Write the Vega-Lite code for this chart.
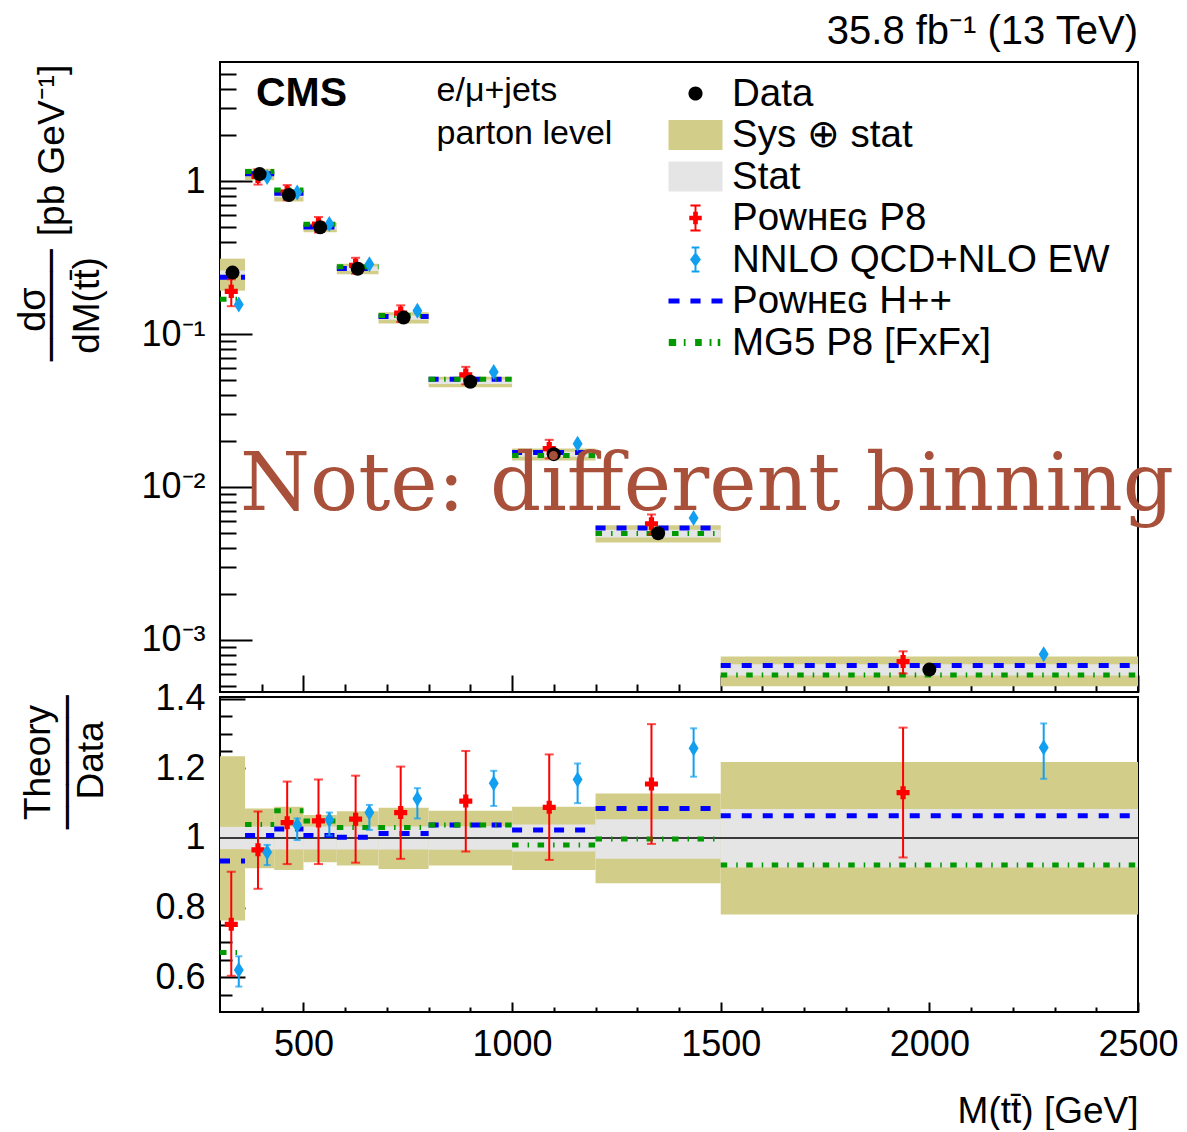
{
  "$schema": "https://vega.github.io/schema/vega-lite/v6.json",
  "background": "white",
  "padding": {"left": 13, "top": 11, "right": 0, "bottom": 0},
  "spacing": -15,
  "config": {
    "font": "Liberation Sans",
    "view": {"stroke": "black", "strokeWidth": 2},
    "axis": {
      "grid": false, "domain": false, "tickColor": "black", "tickWidth": 2,
      "labelColor": "black", "titleColor": "black", "labelFontSize": 36, "titleFontSize": 37,
      "titleFontWeight": "normal", "labelFont": "Liberation Sans", "titleFont": "Liberation Sans",
      "minExtent": 0, "labelOverlap": false, "labelFlush": false, "labelBound": false
    }
  },
  "datasets": {
    "topBins": [
      {"lo": 300, "hi": 360, "center": 330, "data": 0.252, "sysLo": 0.192, "sysHi": 0.311, "statLo": 0.244, "statHi": 0.260, "hpp": 0.235, "mg5": 0.169},
      {"lo": 360, "hi": 430, "center": 395, "data": 1.11, "sysLo": 1.013, "sysHi": 1.204, "statLo": 1.073, "statHi": 1.147, "hpp": 1.118, "mg5": 1.153},
      {"lo": 430, "hi": 500, "center": 465, "data": 0.810, "sysLo": 0.735, "sysHi": 0.883, "statLo": 0.783, "statHi": 0.837, "hpp": 0.831, "mg5": 0.873},
      {"lo": 500, "hi": 580, "center": 540, "data": 0.498, "sysLo": 0.463, "sysHi": 0.531, "statLo": 0.482, "statHi": 0.514, "hpp": 0.501, "mg5": 0.522},
      {"lo": 580, "hi": 680, "center": 630, "data": 0.267, "sysLo": 0.246, "sysHi": 0.288, "statLo": 0.258, "statHi": 0.276, "hpp": 0.268, "mg5": 0.275},
      {"lo": 680, "hi": 800, "center": 740, "data": 0.128, "sysLo": 0.117, "sysHi": 0.139, "statLo": 0.124, "statHi": 0.132, "hpp": 0.130, "mg5": 0.132},
      {"lo": 800, "hi": 1000, "center": 900, "data": 0.0488, "sysLo": 0.0449, "sysHi": 0.0526, "statLo": 0.0472, "statHi": 0.0504, "hpp": 0.0506, "mg5": 0.0506},
      {"lo": 1000, "hi": 1200, "center": 1100, "data": 0.0164, "sysLo": 0.01489, "sysHi": 0.01788, "statLo": 0.01576, "statHi": 0.0170, "hpp": 0.01678, "mg5": 0.01607},
      {"lo": 1200, "hi": 1500, "center": 1350, "data": 0.00498, "sysLo": 0.00433, "sysHi": 0.00562, "statLo": 0.00468, "statHi": 0.00525, "hpp": 0.00540, "mg5": 0.00497},
      {"lo": 1500, "hi": 2500, "center": 2000, "data": 0.00064, "sysLo": 0.000499, "sysHi": 0.00078, "statLo": 0.000586, "statHi": 0.000693, "hpp": 0.000681, "mg5": 0.00059}
    ],
    "ratioBins": [
      {"lo": 300, "hi": 360, "sysLo": 0.763, "sysHi": 1.235, "statLo": 0.968, "statHi": 1.032, "hpp": 0.934, "mg5": 0.671},
      {"lo": 360, "hi": 430, "sysLo": 0.913, "sysHi": 1.085, "statLo": 0.967, "statHi": 1.033, "hpp": 1.007, "mg5": 1.039},
      {"lo": 430, "hi": 500, "sysLo": 0.908, "sysHi": 1.090, "statLo": 0.967, "statHi": 1.033, "hpp": 1.026, "mg5": 1.078},
      {"lo": 500, "hi": 580, "sysLo": 0.930, "sysHi": 1.066, "statLo": 0.967, "statHi": 1.033, "hpp": 1.007, "mg5": 1.049},
      {"lo": 580, "hi": 680, "sysLo": 0.921, "sysHi": 1.077, "statLo": 0.967, "statHi": 1.033, "hpp": 1.002, "mg5": 1.030},
      {"lo": 680, "hi": 800, "sysLo": 0.911, "sysHi": 1.087, "statLo": 0.967, "statHi": 1.033, "hpp": 1.013, "mg5": 1.030},
      {"lo": 800, "hi": 1000, "sysLo": 0.921, "sysHi": 1.078, "statLo": 0.966, "statHi": 1.034, "hpp": 1.037, "mg5": 1.037},
      {"lo": 1000, "hi": 1200, "sysLo": 0.908, "sysHi": 1.090, "statLo": 0.961, "statHi": 1.039, "hpp": 1.023, "mg5": 0.980},
      {"lo": 1200, "hi": 1500, "sysLo": 0.870, "sysHi": 1.128, "statLo": 0.940, "statHi": 1.054, "hpp": 1.085, "mg5": 0.997},
      {"lo": 1500, "hi": 2500, "sysLo": 0.780, "sysHi": 1.218, "statLo": 0.915, "statHi": 1.083, "hpp": 1.064, "mg5": 0.922}
    ],
    "p8": [
      {"x": 327, "top": 0.190, "topLo": 0.152, "topHi": 0.228, "r": 0.752, "rLo": 0.604, "rHi": 0.903},
      {"x": 391, "top": 1.072, "topLo": 0.948, "topHi": 1.194, "r": 0.966, "rLo": 0.854, "rHi": 1.076},
      {"x": 461, "top": 0.846, "topLo": 0.749, "topHi": 0.941, "r": 1.044, "rLo": 0.925, "rHi": 1.162},
      {"x": 536, "top": 0.522, "topLo": 0.461, "topHi": 0.582, "r": 1.049, "rLo": 0.925, "rHi": 1.168},
      {"x": 625, "top": 0.281, "topLo": 0.248, "topHi": 0.315, "r": 1.054, "rLo": 0.929, "rHi": 1.179},
      {"x": 733, "top": 0.137, "topLo": 0.120, "topHi": 0.154, "r": 1.073, "rLo": 0.940, "rHi": 1.205},
      {"x": 889, "top": 0.0540, "topLo": 0.0469, "topHi": 0.0610, "r": 1.106, "rLo": 0.961, "rHi": 1.250},
      {"x": 1089, "top": 0.01784, "topLo": 0.01537, "topHi": 0.02034, "r": 1.088, "rLo": 0.937, "rHi": 1.240},
      {"x": 1334, "top": 0.00575, "topLo": 0.00490, "topHi": 0.00661, "r": 1.155, "rLo": 0.983, "rHi": 1.327},
      {"x": 1937, "top": 0.000723, "topLo": 0.000604, "topHi": 0.000843, "r": 1.130, "rLo": 0.944, "rHi": 1.317}
    ],
    "nnlo": [
      {"x": 345, "top": 0.156, "topLo": 0.144, "topHi": 0.166, "r": 0.621, "rLo": 0.573, "rHi": 0.660},
      {"x": 413, "top": 1.064, "topLo": 1.023, "topHi": 1.088, "r": 0.959, "rLo": 0.922, "rHi": 0.980},
      {"x": 485, "top": 0.840, "topLo": 0.805, "topHi": 0.855, "r": 1.037, "rLo": 0.994, "rHi": 1.056},
      {"x": 562, "top": 0.524, "topLo": 0.501, "topHi": 0.534, "r": 1.052, "rLo": 1.007, "rHi": 1.073},
      {"x": 658, "top": 0.286, "topLo": 0.273, "topHi": 0.292, "r": 1.073, "rLo": 1.023, "rHi": 1.095},
      {"x": 773, "top": 0.142, "topLo": 0.135, "topHi": 0.146, "r": 1.113, "rLo": 1.056, "rHi": 1.143},
      {"x": 956, "top": 0.0565, "topLo": 0.0533, "topHi": 0.0582, "r": 1.157, "rLo": 1.092, "rHi": 1.193},
      {"x": 1157, "top": 0.01916, "topLo": 0.01804, "topHi": 0.01991, "r": 1.168, "rLo": 1.100, "rHi": 1.214},
      {"x": 1435, "top": 0.00626, "topLo": 0.00586, "topHi": 0.00655, "r": 1.258, "rLo": 1.176, "rHi": 1.315},
      {"x": 2274, "top": 0.000806, "topLo": 0.000749, "topHi": 0.000851, "r": 1.260, "rLo": 1.170, "rHi": 1.329}
    ],
    "legendEntries": [
      {"entry": "Data"},
      {"entry": "Sys ⊕ stat"},
      {"entry": "Stat"},
      {"entry": "Pᴏᴡʜᴇɢ P8"},
      {"entry": "NNLO QCD+NLO EW"},
      {"entry": "Pᴏᴡʜᴇɢ H++"},
      {"entry": "MG5 P8 [FxFx]"}
    ],
    "single": [{}]
  },
  "vconcat": [
    {
      "width": 918,
      "height": 630,
      "title": {"text": "35.8 fb⁻¹ (13 TeV)", "anchor": "end", "frame": "group", "fontSize": 40, "fontWeight": "normal", "font": "Liberation Sans", "color": "black", "offset": 10},
      "resolve": {"axis": {"x": "independent", "y": "independent"}},
      "layer": [
        {
          "data": {"name": "topBins"},
          "mark": {"type": "rect", "color": "#d3cd8a"},
          "encoding": {
            "x": {"field": "lo", "type": "quantitative", "scale": {"domain": [300, 2500], "nice": false, "zero": false},
                  "axis": {"orient": "bottom", "values": [500, 1000, 1500, 2000, 2500], "tickSize": -17, "labels": false, "title": null}},
            "x2": {"field": "hi"},
            "y": {"field": "sysLo", "type": "quantitative", "scale": {"type": "log", "domain": [0.000457, 6.0], "nice": false},
                  "axis": {"orient": "left", "values": [0.001, 0.01, 0.1, 1], "ticks": false, "tickSize": 0, "labelPadding": 15,
                           "labelExpr": "datum.value >= 0.5 ? '1' : datum.value >= 0.05 ? '10⁻¹' : datum.value >= 0.005 ? '10⁻²' : '10⁻³'",
                           "title": "dσ", "titleFontSize": 38, "titleAngle": 270, "titleX": -187, "titleY": 247, "titleAlign": "center", "titleBaseline": "middle"}},
            "y2": {"field": "sysHi"}
          }
        },
        {
          "data": {"name": "topBins"},
          "mark": {"type": "rect", "color": "#e5e5e5"},
          "encoding": {
            "x": {"field": "lo", "type": "quantitative", "scale": {"domain": [300, 2500], "nice": false, "zero": false},
                  "axis": {"orient": "bottom", "values": [400, 600, 700, 800, 900, 1100, 1200, 1300, 1400, 1600, 1700, 1800, 1900, 2100, 2200, 2300, 2400], "tickSize": -8, "labels": false,
                           "title": "─────", "titleFont": "DejaVu Sans Mono", "titleFontSize": 37, "titleAngle": 270, "titleX": -168, "titleY": -387, "titleAlign": "center", "titleBaseline": "middle"}},
            "x2": {"field": "hi"},
            "y": {"field": "statLo", "type": "quantitative", "scale": {"type": "log", "domain": [0.000457, 6.0], "nice": false},
                  "axis": {"orient": "left", "values": [0.001, 0.01, 0.1, 1], "tickSize": -32, "labels": false,
                           "title": "dM(tt̄)", "titleAngle": 270, "titleX": -133, "titleY": 243, "titleAlign": "center", "titleBaseline": "middle"}},
            "y2": {"field": "statHi"}
          }
        },
        {
          "data": {"name": "topBins"},
          "mark": {"type": "rule", "color": "#0000ff", "strokeWidth": 5, "strokeDash": [10, 11], "strokeCap": "butt"},
          "encoding": {
            "x": {"field": "lo", "type": "quantitative", "scale": {"domain": [300, 2500], "nice": false, "zero": false}, "axis": null},
            "x2": {"field": "hi"},
            "y": {"field": "hpp", "type": "quantitative", "scale": {"type": "log", "domain": [0.000457, 6.0], "nice": false},
                  "axis": {"orient": "left", "values": [0.0005, 0.0006, 0.0007, 0.0008, 0.0009, 0.002, 0.003, 0.004, 0.005, 0.006, 0.007, 0.008, 0.009, 0.02, 0.03, 0.04, 0.05, 0.06, 0.07, 0.08, 0.09, 0.2, 0.3, 0.4, 0.5, 0.6, 0.7, 0.8, 0.9, 2, 3, 4, 5],
                           "tickSize": -16, "labels": false,
                           "title": "[pb GeV⁻¹]", "titleAngle": 270, "titleX": -168, "titleY": 88, "titleAlign": "center", "titleBaseline": "middle"}}
          }
        },
        {
          "data": {"name": "topBins"},
          "mark": {"type": "rule", "color": "#009a00", "strokeWidth": 5, "strokeDash": [6.5, 9, 1.5, 8.5], "strokeCap": "butt"},
          "encoding": {
            "x": {"field": "lo", "type": "quantitative", "scale": {"domain": [300, 2500], "nice": false, "zero": false}, "axis": null},
            "x2": {"field": "hi"},
            "y": {"field": "mg5", "type": "quantitative", "scale": {"type": "log", "domain": [0.000457, 6.0], "nice": false}, "axis": null}
          }
        },
        {
          "data": {"name": "p8"},
          "mark": {"type": "rule", "color": "#ff0000", "strokeWidth": 2},
          "encoding": {
            "x": {"field": "x", "type": "quantitative", "scale": {"domain": [300, 2500], "nice": false, "zero": false}, "axis": null},
            "y": {"field": "topLo", "type": "quantitative", "scale": {"type": "log", "domain": [0.000457, 6.0], "nice": false}, "axis": null},
            "y2": {"field": "topHi"}
          }
        },
        {
          "data": {"name": "p8"},
          "mark": {"type": "tick", "orient": "horizontal", "color": "#ff0000", "size": 9, "thickness": 2},
          "encoding": {
            "x": {"field": "x", "type": "quantitative", "scale": {"domain": [300, 2500], "nice": false, "zero": false}, "axis": null},
            "y": {"field": "topLo", "type": "quantitative", "scale": {"type": "log", "domain": [0.000457, 6.0], "nice": false}, "axis": null}
          }
        },
        {
          "data": {"name": "p8"},
          "mark": {"type": "tick", "orient": "horizontal", "color": "#ff0000", "size": 9, "thickness": 2},
          "encoding": {
            "x": {"field": "x", "type": "quantitative", "scale": {"domain": [300, 2500], "nice": false, "zero": false}, "axis": null},
            "y": {"field": "topHi", "type": "quantitative", "scale": {"type": "log", "domain": [0.000457, 6.0], "nice": false}, "axis": null}
          }
        },
        {
          "data": {"name": "p8"},
          "mark": {"type": "point", "shape": "cross", "filled": true, "color": "#ff0000", "size": 170, "opacity": 1},
          "encoding": {
            "x": {"field": "x", "type": "quantitative", "scale": {"domain": [300, 2500], "nice": false, "zero": false}, "axis": null},
            "y": {"field": "top", "type": "quantitative", "scale": {"type": "log", "domain": [0.000457, 6.0], "nice": false}, "axis": null}
          }
        },
        {
          "data": {"name": "nnlo"},
          "mark": {"type": "rule", "color": "#129ff0", "strokeWidth": 2},
          "encoding": {
            "x": {"field": "x", "type": "quantitative", "scale": {"domain": [300, 2500], "nice": false, "zero": false}, "axis": null},
            "y": {"field": "topLo", "type": "quantitative", "scale": {"type": "log", "domain": [0.000457, 6.0], "nice": false}, "axis": null},
            "y2": {"field": "topHi"}
          }
        },
        {
          "data": {"name": "nnlo"},
          "mark": {"type": "point", "shape": "M0,-1L0.62,0L0,1L-0.62,0Z", "filled": true, "color": "#129ff0", "size": 256, "opacity": 1},
          "encoding": {
            "x": {"field": "x", "type": "quantitative", "scale": {"domain": [300, 2500], "nice": false, "zero": false}, "axis": null},
            "y": {"field": "top", "type": "quantitative", "scale": {"type": "log", "domain": [0.000457, 6.0], "nice": false}, "axis": null}
          }
        },
        {
          "data": {"name": "topBins"},
          "mark": {"type": "point", "shape": "circle", "filled": true, "color": "#000000", "size": 196, "opacity": 1},
          "encoding": {
            "x": {"field": "center", "type": "quantitative", "scale": {"domain": [300, 2500], "nice": false, "zero": false}, "axis": null},
            "y": {"field": "data", "type": "quantitative", "scale": {"type": "log", "domain": [0.000457, 6.0], "nice": false}, "axis": null}
          }
        },
        {
          "data": {"name": "single"},
          "mark": {"type": "text", "text": "CMS", "font": "Liberation Sans", "fontWeight": "bold", "fontSize": 41, "align": "left", "baseline": "alphabetic", "color": "black"},
          "encoding": {
            "x": {"datum": 386, "type": "quantitative", "scale": {"domain": [300, 2500], "nice": false, "zero": false}, "axis": null},
            "y": {"datum": 3.1, "type": "quantitative", "scale": {"type": "log", "domain": [0.000457, 6.0], "nice": false}, "axis": null}
          }
        },
        {
          "data": {"name": "single"},
          "mark": {"type": "text", "text": ["e/μ+jets", "parton level"], "font": "Liberation Sans", "fontSize": 34, "lineHeight": 43, "align": "left", "baseline": "alphabetic", "color": "black"},
          "encoding": {
            "x": {"datum": 819, "type": "quantitative", "scale": {"domain": [300, 2500], "nice": false, "zero": false}, "axis": null},
            "y": {"datum": 3.33, "type": "quantitative", "scale": {"type": "log", "domain": [0.000457, 6.0], "nice": false}, "axis": null}
          }
        },
        {
          "data": {"name": "single"},
          "mark": {"type": "text", "text": "Note: different binning!", "font": "DejaVu Serif", "fontSize": 80, "align": "left", "baseline": "alphabetic", "color": "#a9503a", "limit": 950, "ellipsis": "\u200b"},
          "encoding": {
            "x": {"datum": 348, "type": "quantitative", "scale": {"domain": [300, 2500], "nice": false, "zero": false}, "axis": null},
            "y": {"datum": 0.0071, "type": "quantitative", "scale": {"type": "log", "domain": [0.000457, 6.0], "nice": false}, "axis": null}
          }
        },
        {
          "data": {"name": "legendEntries"},
          "mark": {"type": "point", "filled": true, "clip": true},
          "encoding": {
            "x": {"datum": 100, "type": "quantitative", "scale": {"domain": [300, 2500], "nice": false, "zero": false}, "axis": null},
            "y": {"datum": 1, "type": "quantitative", "scale": {"type": "log", "domain": [0.000457, 6.0], "nice": false}, "axis": null},
            "fill": {
              "field": "entry", "type": "nominal",
              "scale": {
                "domain": ["Data", "Sys ⊕ stat", "Stat", "Pᴏᴡʜᴇɢ P8", "NNLO QCD+NLO EW", "Pᴏᴡʜᴇɢ H++", "MG5 P8 [FxFx]"],
                "range": ["#000000", "#d3cd8a", "#e5e5e5", "#ff0000", "#129ff0", "#0000ff", "#009a00"]
              },
              "legend": {"orient": "none", "legendX": 456, "legendY": 12, "title": null, "labelFontSize": 38.5, "labelFont": "Liberation Sans", "labelColor": "black",
                         "symbolSize": 1521, "labelOffset": 17, "rowPadding": 2.5, "padding": 0, "symbolStrokeWidth": 0, "labelLimit": 600, "symbolOpacity": 1}
            },
            "shape": {
              "field": "entry", "type": "nominal",
              "scale": {
                "domain": ["Data", "Sys ⊕ stat", "Stat", "Pᴏᴡʜᴇɢ P8", "NNLO QCD+NLO EW", "Pᴏᴡʜᴇɢ H++", "MG5 P8 [FxFx]"],
                "range": [
                  "M0.36,0A0.36,0.36,0,1,1,-0.36,0A0.36,0.36,0,1,1,0.36,0Z",
                  "M-1.385,-0.77H1.385V0.77H-1.385Z",
                  "M-1.385,-0.77H1.385V0.77H-1.385Z",
                  "M-0.05,-0.64H0.05V0.64H-0.05Z M-0.26,-0.69H0.26V-0.59H-0.26Z M-0.26,0.59H0.26V0.69H-0.26Z M-0.32,-0.12H0.32V0.12H-0.32Z M-0.12,-0.32H0.12V0.32H-0.12Z",
                  "M-0.05,-0.62H0.05V0.62H-0.05Z M-0.2,-0.67H0.2V-0.57H-0.2Z M-0.2,0.57H0.2V0.67H-0.2Z M0,-0.38L0.28,0L0,0.38L-0.28,0Z",
                  "M-1.385,-0.13H-0.82V0.13H-1.385Z M-0.26,-0.13H0.26V0.13H-0.26Z M0.82,-0.13H1.385V0.13H0.82Z",
                  "M-1.37,-0.18H-0.99V0.18H-1.37Z M-0.6,-0.18H-0.51V0.18H-0.6Z M-0.02,-0.18H0.32V0.18H-0.02Z M0.72,-0.18H0.82V0.18H0.72Z M1.14,-0.18H1.27V0.18H1.14Z"
                ]
              },
              "legend": {"orient": "none", "legendX": 456, "legendY": 12, "title": null, "labelFontSize": 38.5, "labelFont": "Liberation Sans", "labelColor": "black",
                         "symbolSize": 1521, "labelOffset": 17, "rowPadding": 2.5, "padding": 0, "symbolStrokeWidth": 0, "labelLimit": 600, "symbolOpacity": 1}
            }
          }
        }
      ]
    },
    {
      "width": 918,
      "height": 315,
      "resolve": {"axis": {"x": "independent", "y": "independent"}},
      "layer": [
        {
          "data": {"name": "ratioBins"},
          "mark": {"type": "rect", "color": "#d3cd8a"},
          "encoding": {
            "x": {"field": "lo", "type": "quantitative", "scale": {"domain": [300, 2500], "nice": false, "zero": false},
                  "axis": {"orient": "bottom", "values": [500, 1000, 1500, 2000, 2500], "ticks": false, "tickSize": 0, "labelPadding": 15, "format": "d",
                           "title": "M(tt̄) [GeV]", "titleX": 918, "titleY": 110, "titleAlign": "right", "titleBaseline": "alphabetic", "titleAngle": 0}},
            "x2": {"field": "hi"},
            "y": {"field": "sysLo", "type": "quantitative", "scale": {"domain": [0.5, 1.405], "nice": false, "zero": false},
                  "axis": {"orient": "left", "values": [0.6, 0.8, 1, 1.2, 1.4], "ticks": false, "tickSize": 0, "labelPadding": 15, "format": "~g",
                           "title": "Theory", "titleAngle": 270, "titleX": -182, "titleY": 65, "titleAlign": "center", "titleBaseline": "middle"}},
            "y2": {"field": "sysHi"}
          }
        },
        {
          "data": {"name": "ratioBins"},
          "mark": {"type": "rect", "color": "#e5e5e5"},
          "encoding": {
            "x": {"field": "lo", "type": "quantitative", "scale": {"domain": [300, 2500], "nice": false, "zero": false},
                  "axis": {"orient": "bottom", "values": [500, 1000, 1500, 2000, 2500], "tickSize": -10, "labels": false, "title": null}},
            "x2": {"field": "hi"},
            "y": {"field": "statLo", "type": "quantitative", "scale": {"domain": [0.5, 1.405], "nice": false, "zero": false},
                  "axis": {"orient": "left", "values": [0.6, 0.8, 1, 1.2, 1.4], "tickSize": -25, "labels": false,
                           "title": "Data", "titleAngle": 270, "titleX": -129, "titleY": 63, "titleAlign": "center", "titleBaseline": "middle"}},
            "y2": {"field": "statHi"}
          }
        },
        {
          "data": {"name": "single"},
          "mark": {"type": "rule", "color": "black", "strokeWidth": 1.5},
          "encoding": {
            "y": {"datum": 1, "type": "quantitative", "scale": {"domain": [0.5, 1.405], "nice": false, "zero": false}, "axis": null}
          }
        },
        {
          "data": {"name": "ratioBins"},
          "mark": {"type": "rule", "color": "#0000ff", "strokeWidth": 5, "strokeDash": [10, 11], "strokeCap": "butt"},
          "encoding": {
            "x": {"field": "lo", "type": "quantitative", "scale": {"domain": [300, 2500], "nice": false, "zero": false},
                  "axis": {"orient": "bottom", "values": [400, 600, 700, 800, 900, 1100, 1200, 1300, 1400, 1600, 1700, 1800, 1900, 2100, 2200, 2300, 2400], "tickSize": -5, "labels": false, "title": null}},
            "x2": {"field": "hi"},
            "y": {"field": "hpp", "type": "quantitative", "scale": {"domain": [0.5, 1.405], "nice": false, "zero": false},
                  "axis": {"orient": "left", "values": [0.55, 0.65, 0.7, 0.75, 0.85, 0.9, 0.95, 1.05, 1.1, 1.15, 1.25, 1.3, 1.35], "tickSize": -12, "labels": false,
                           "title": "──────", "titleFont": "DejaVu Sans Mono", "titleFontSize": 37, "titleAngle": 270, "titleX": -152, "titleY": 65, "titleAlign": "center", "titleBaseline": "middle"}}
          }
        },
        {
          "data": {"name": "ratioBins"},
          "mark": {"type": "rule", "color": "#009a00", "strokeWidth": 5, "strokeDash": [6.5, 9, 1.5, 8.5], "strokeCap": "butt"},
          "encoding": {
            "x": {"field": "lo", "type": "quantitative", "scale": {"domain": [300, 2500], "nice": false, "zero": false}, "axis": null},
            "x2": {"field": "hi"},
            "y": {"field": "mg5", "type": "quantitative", "scale": {"domain": [0.5, 1.405], "nice": false, "zero": false}, "axis": null}
          }
        },
        {
          "data": {"name": "p8"},
          "mark": {"type": "rule", "color": "#ff0000", "strokeWidth": 2},
          "encoding": {
            "x": {"field": "x", "type": "quantitative", "scale": {"domain": [300, 2500], "nice": false, "zero": false}, "axis": null},
            "y": {"field": "rLo", "type": "quantitative", "scale": {"domain": [0.5, 1.405], "nice": false, "zero": false}, "axis": null},
            "y2": {"field": "rHi"}
          }
        },
        {
          "data": {"name": "p8"},
          "mark": {"type": "tick", "orient": "horizontal", "color": "#ff0000", "size": 9, "thickness": 2},
          "encoding": {
            "x": {"field": "x", "type": "quantitative", "scale": {"domain": [300, 2500], "nice": false, "zero": false}, "axis": null},
            "y": {"field": "rLo", "type": "quantitative", "scale": {"domain": [0.5, 1.405], "nice": false, "zero": false}, "axis": null}
          }
        },
        {
          "data": {"name": "p8"},
          "mark": {"type": "tick", "orient": "horizontal", "color": "#ff0000", "size": 9, "thickness": 2},
          "encoding": {
            "x": {"field": "x", "type": "quantitative", "scale": {"domain": [300, 2500], "nice": false, "zero": false}, "axis": null},
            "y": {"field": "rHi", "type": "quantitative", "scale": {"domain": [0.5, 1.405], "nice": false, "zero": false}, "axis": null}
          }
        },
        {
          "data": {"name": "p8"},
          "mark": {"type": "point", "shape": "cross", "filled": true, "color": "#ff0000", "size": 170, "opacity": 1},
          "encoding": {
            "x": {"field": "x", "type": "quantitative", "scale": {"domain": [300, 2500], "nice": false, "zero": false}, "axis": null},
            "y": {"field": "r", "type": "quantitative", "scale": {"domain": [0.5, 1.405], "nice": false, "zero": false}, "axis": null}
          }
        },
        {
          "data": {"name": "nnlo"},
          "mark": {"type": "rule", "color": "#129ff0", "strokeWidth": 2},
          "encoding": {
            "x": {"field": "x", "type": "quantitative", "scale": {"domain": [300, 2500], "nice": false, "zero": false}, "axis": null},
            "y": {"field": "rLo", "type": "quantitative", "scale": {"domain": [0.5, 1.405], "nice": false, "zero": false}, "axis": null},
            "y2": {"field": "rHi"}
          }
        },
        {
          "data": {"name": "nnlo"},
          "mark": {"type": "tick", "orient": "horizontal", "color": "#129ff0", "size": 7, "thickness": 2},
          "encoding": {
            "x": {"field": "x", "type": "quantitative", "scale": {"domain": [300, 2500], "nice": false, "zero": false}, "axis": null},
            "y": {"field": "rLo", "type": "quantitative", "scale": {"domain": [0.5, 1.405], "nice": false, "zero": false}, "axis": null}
          }
        },
        {
          "data": {"name": "nnlo"},
          "mark": {"type": "tick", "orient": "horizontal", "color": "#129ff0", "size": 7, "thickness": 2},
          "encoding": {
            "x": {"field": "x", "type": "quantitative", "scale": {"domain": [300, 2500], "nice": false, "zero": false}, "axis": null},
            "y": {"field": "rHi", "type": "quantitative", "scale": {"domain": [0.5, 1.405], "nice": false, "zero": false}, "axis": null}
          }
        },
        {
          "data": {"name": "nnlo"},
          "mark": {"type": "point", "shape": "M0,-1L0.62,0L0,1L-0.62,0Z", "filled": true, "color": "#129ff0", "size": 256, "opacity": 1},
          "encoding": {
            "x": {"field": "x", "type": "quantitative", "scale": {"domain": [300, 2500], "nice": false, "zero": false}, "axis": null},
            "y": {"field": "r", "type": "quantitative", "scale": {"domain": [0.5, 1.405], "nice": false, "zero": false}, "axis": null}
          }
        }
      ]
    }
  ]
}
